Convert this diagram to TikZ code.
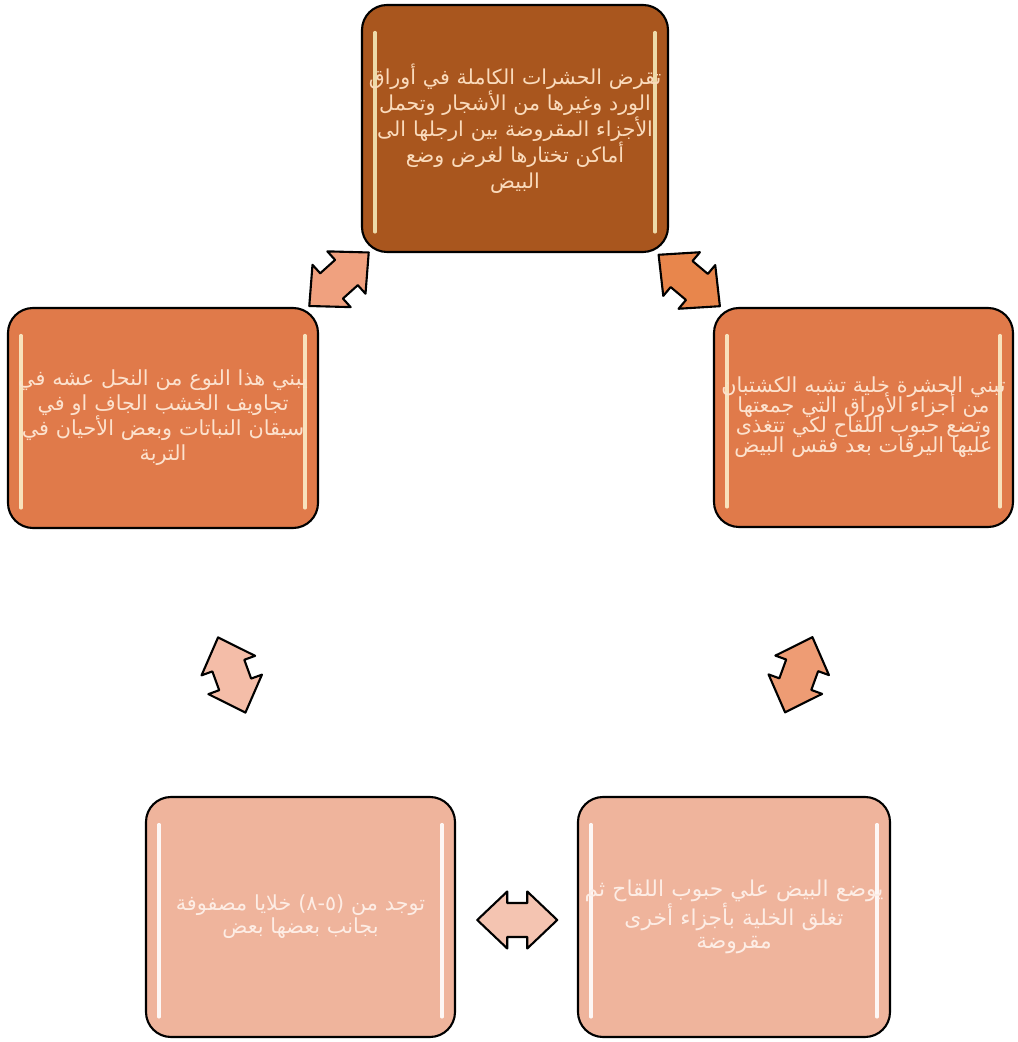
\documentclass[tikz,border=0pt]{standalone}
\usepackage{fontspec}
\usetikzlibrary{calc}
\newfontfamily\arabicfont[Script=Arabic]{DejaVu Sans}
\TeXXeTstate=1
\newcommand\artxt[1]{\beginR #1\endR}
\newcommand\tightlines{\lineskiplimit=-20pt\relax\lineskip=0pt\relax}
\definecolor{boxtop}{HTML}{A9561E}
\definecolor{boxmid}{HTML}{E07A4A}
\definecolor{boxlow}{HTML}{EFB49C}
\definecolor{txttop}{HTML}{FADBBC}
\definecolor{txtmid}{HTML}{FCE2CE}
\definecolor{txtlow}{HTML}{FDEDE5}
\definecolor{arrA}{HTML}{F0A17F}
\definecolor{arrB}{HTML}{E8864C}
\definecolor{arrC}{HTML}{F4BDA8}
\definecolor{arrD}{HTML}{EE9C74}
\definecolor{arrE}{HTML}{F4C4B1}
\begin{document}
\begin{tikzpicture}[
  box/.style={draw=black, line width=1.2pt, rounded corners=0.5cm, inner sep=0pt,
    align=center, text width=#1},
  gloss/.style={path picture={
    \draw[#1, line width=1.8pt, line cap=round]
      ([xshift=0.26cm,yshift=-0.55cm]path picture bounding box.north west) --
      ([xshift=0.26cm,yshift=0.4cm]path picture bounding box.south west);
    \draw[#1, line width=1.8pt, line cap=round]
      ([xshift=-0.26cm,yshift=-0.55cm]path picture bounding box.north east) --
      ([xshift=-0.26cm,yshift=0.4cm]path picture bounding box.south east);}},
  dblarrow/.pic={
    \draw[pic actions, draw=black, line width=1.2pt, line join=round]
      (-0.8,0) -- (-0.2,0.57) -- (-0.2,0.34) -- (0.2,0.34) -- (0.2,0.57)
      -- (0.8,0) -- (0.2,-0.57) -- (0.2,-0.34) -- (-0.2,-0.34)
      -- (-0.2,-0.57) -- cycle;},
]
\useasboundingbox (0,0) rectangle (20.34,20.84);

% boxes
\node[box=6.12cm, minimum height=4.94cm, fill=boxtop, text=txttop,
  gloss={white!80!yellow, opacity=.8},
  font=\arabicfont\fontsize{11.7}{14.8}\selectfont] (T) at (10.30,18.27)
  {\artxt{تقرض الحشرات الكاملة في أوراق}\\
   \artxt{الورد وغيرها من الأشجار وتحمل}\\
   \artxt{الأجزاء المقروضة بين ارجلها الى}\\
   \artxt{أماكن تختارها لغرض وضع}\\
   \artxt{البيض}};
\node[box=6.2cm, minimum height=4.4cm, fill=boxmid, text=txtmid,
  gloss={white!85!yellow, opacity=.8},
  font=\arabicfont\fontsize{11.8}{14.2}\selectfont] (L) at (3.26,12.48)
  {\artxt{يبني هذا النوع من النحل عشه في}\\
   \artxt{تجاويف الخشب الجاف او في}\\
   \artxt{سيقان النباتات وبعض الأحيان في}\\
   \artxt{التربة}};
\node[box=5.98cm, minimum height=4.38cm, fill=boxmid, text=txtmid,
  gloss={white!85!yellow, opacity=.8},
  font=\arabicfont\fontsize{11.8}{11.4}\selectfont\tightlines]
  (R) at (17.27,12.49)
  {\artxt{تبني الحشرة خلية تشبه الكشتبان}\\
   \artxt{من أجزاء الأوراق التي جمعتها}\\
   \artxt{وتضع حبوب اللقاح لكي تتغذى}\\
   \artxt{عليها اليرقات بعد فقس البيض}};
\node[box=6.18cm, minimum height=4.8cm, fill=boxlow, text=txtlow,
  gloss={white, opacity=.9},
  font=\arabicfont\fontsize{11.8}{13.2}\selectfont] (BL) at (6.01,2.5)
  {\artxt{توجد من (٥-٨) خلايا مصفوفة}\\
   \artxt{بجانب بعضها بعض}};
\node[box=6.24cm, minimum height=4.8cm, fill=boxlow, text=txtlow,
  gloss={white, opacity=.9},
  font=\arabicfont\fontsize{12.4}{13.2}\selectfont] (BR) at (14.68,2.5)
  {\artxt{يوضع البيض علي حبوب اللقاح ثم}\\
   \artxt{تغلق الخلية بأجزاء أخرى}\\
   \artxt{مقروضة}};

% double arrows between the boxes
\pic[fill=arrA, rotate=42] (TL) at ($(T)!0.5!(L)+(0,-0.12)$) {dblarrow};
\pic[fill=arrB, rotate=-40] (TR) at ($(T)!0.5!(R)+(0,-0.15)$) {dblarrow};
\pic[fill=arrC, rotate=110] (LB) at ($(L)!0.5!(BL)+(0,-0.15)$) {dblarrow};
\pic[fill=arrD, rotate=70] (RB) at ($(R)!0.5!(BR)+(0,-0.15)$) {dblarrow};
\pic[fill=arrE] (BB) at ($(BL)!0.5!(BR)+(0,-0.06)$) {dblarrow};
\end{tikzpicture}
\end{document}
